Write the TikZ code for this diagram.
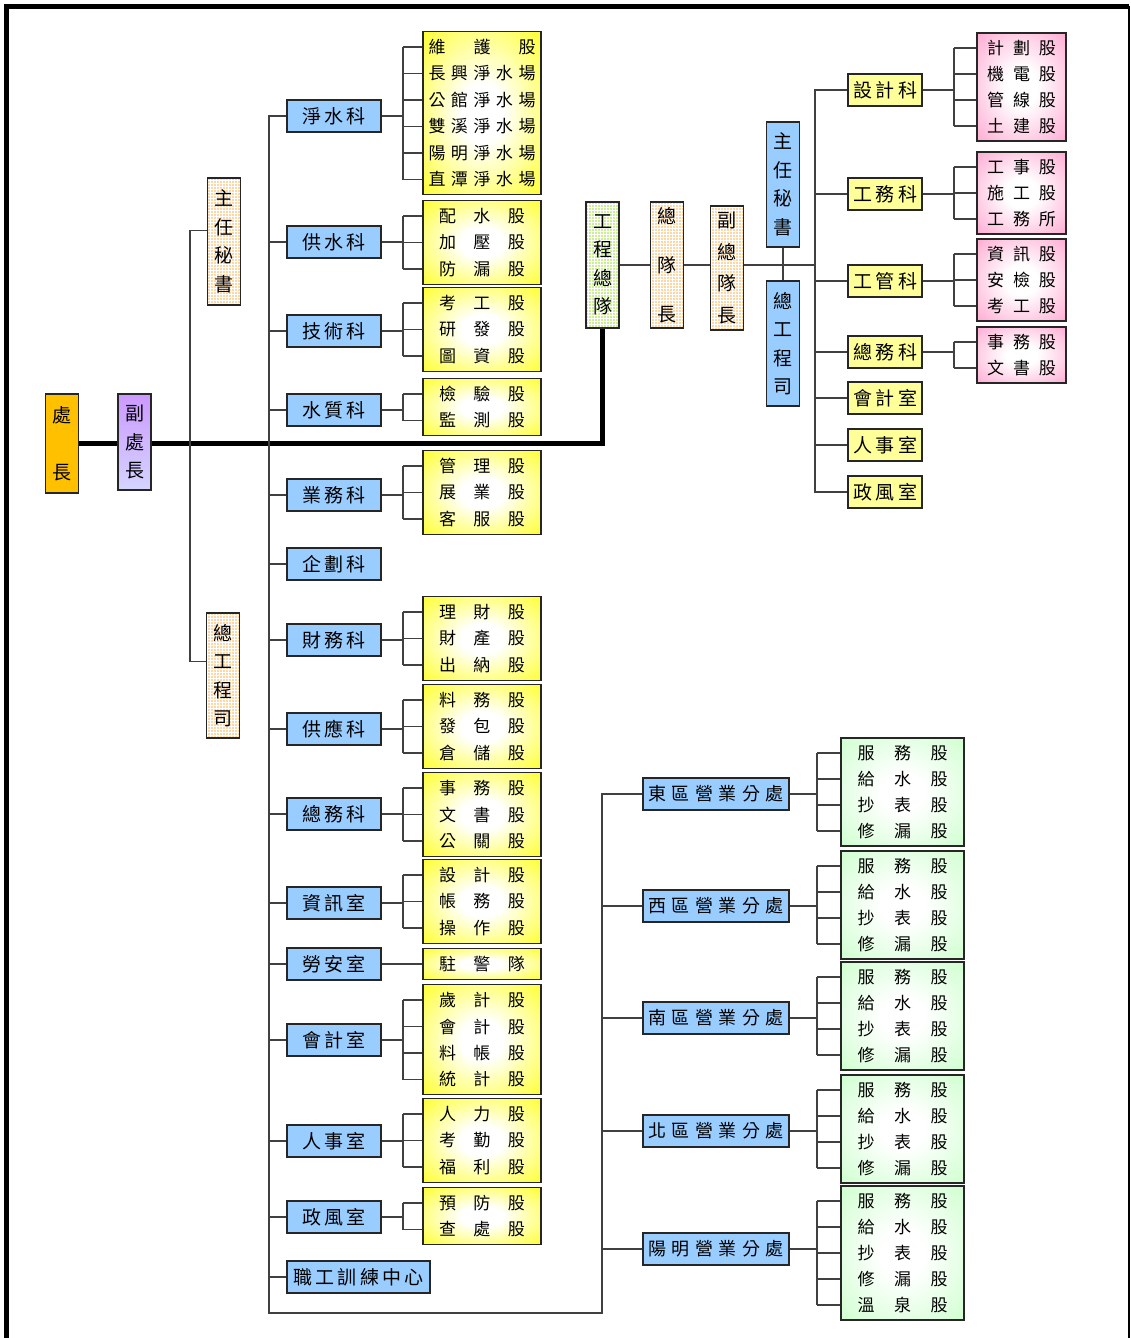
\documentclass[tikz,border=0pt]{standalone}
\usepackage{fontspec}
\setmainfont{Noto Sans CJK TC}
\usepackage{xcolor}
\usepackage{tikz}
\usetikzlibrary{positioning}
\usetikzlibrary{patterns}
\definecolor{chiefgold}{RGB}{255,192,0}
\definecolor{deputytop}{RGB}{204,153,255}
\definecolor{deputybot}{RGB}{212,212,255}
\definecolor{peachfill}{RGB}{255,214,165}
\definecolor{teamgreen}{RGB}{204,238,150}
\definecolor{deptblue}{RGB}{153,204,255}
\definecolor{keyellow}{RGB}{255,255,153}
\definecolor{guyellow}{RGB}{255,255,0}
\definecolor{gupink}{RGB}{255,150,200}
\definecolor{gugreen}{RGB}{196,255,196}
\pgfdeclareradialshading{gushade}{\pgfpoint{0bp}{0bp}}{color(0bp)=(white);
  color(9bp)=(white); color(42bp)=(guyellow); color(50bp)=(guyellow)}
\pgfdeclareradialshading{pkshade}{\pgfpoint{0bp}{0bp}}{color(0bp)=(white);
  color(9bp)=(white); color(42bp)=(gupink); color(50bp)=(gupink)}
\pgfdeclareradialshading{grshade}{\pgfpoint{0bp}{0bp}}{color(0bp)=(white);
  color(9bp)=(white); color(42bp)=(gugreen); color(50bp)=(gugreen)}
\tikzstyle{conn} = [draw=black!75, line width=1.3pt]
\tikzstyle{trunk} = [draw=black, line width=5pt]
\tikzstyle{box} = [draw=black!85, line width=1.3pt, inner sep=0pt]
\tikzstyle{vbox} = [box, minimum width=33, align=center,
                    font=\fontsize{19}{28.5}\selectfont]
\tikzstyle{peach} = [vbox, preaction={fill=peachfill}, pattern=grid,
                     pattern color=white]
\tikzstyle{teampat} = [vbox, preaction={fill=teamgreen}, pattern=grid,
                       pattern color=white]
\tikzstyle{dept} = [box, fill=deptblue, minimum width=94, minimum height=32,
                    font=\fontsize{19}{19}\selectfont]
\tikzstyle{office} = [box, fill=deptblue, minimum width=146, minimum height=32,
                      font=\fontsize{18}{18}\selectfont]
\tikzstyle{ke} = [box, fill=keyellow, minimum width=74, minimum height=32,
                  font=\fontsize{19}{19}\selectfont]
\tikzstyle{gu} = [box, shading=gushade, minimum width=118]
\tikzstyle{pk} = [box, shading=pkshade, minimum width=89]
\tikzstyle{gr} = [box, shading=grshade, minimum width=123]
\tikzstyle{row} = [inner sep=0pt, font=\fontsize{17}{17}\selectfont]
\def\rowpitch{26.5}
\def\rowwd{86pt}
% #1 parent, #2 group, #3 style, #4 x, #5 first row y, #6 rows, #7 bracket x, #8 rows
\newcommand{\gugroup}[8]{%
  \node [#3, minimum height={#6*\rowpitch+4}] (#2) at (#4,{#5+(#6-1)*\rowpitch/2}) {};
  \foreach \t [count=\i] in {#8}
    \node [row] (#2-\i) at (#4,{#5+(\i-1)*\rowpitch}) {\makebox[\rowwd][s]{\t}};
  \coordinate (#2-b) at (#7,#5);
  \draw [conn] (#1.east) -- (#1.east -| #2-b);
  \draw [conn] (#2-1 -| #2-b) -- (#2-#6 -| #2-b);
  \foreach \i in {1,...,#6}
    \draw [conn] (#2-\i -| #2-b) -- (#2-\i -| #2.west);
}

\begin{document}
\begin{tikzpicture}[x=1pt, y=-1pt]
  \useasboundingbox (0,0) rectangle (1131,1338);
  \draw [line width=5pt] (6.5,1338) -- (6.5,6.5) -- (1129,6.5);
  \draw [line width=2.5pt] (1129,6.5) -- (1129,1338);

  % Place nodes
  \node [vbox, fill=chiefgold, minimum height=99] (chief) at (62,443.5) {處\\[28.5pt]長};
  \node [vbox, top color=deputytop, bottom color=deputybot, minimum height=96] (deputy) at (134.5,442) {副\\處\\長};
  \node [peach, minimum height=127] (secL) at (224,241.5) {主\\任\\秘\\書};
  \node [peach, minimum height=125] (engL) at (223,675.5) {總\\工\\程\\司};

  \node [dept] (jingshui) at (334,116) {\makebox[64pt][s]{淨 水 科}};
  \node [dept] (gongshui) at (334,242) {\makebox[64pt][s]{供 水 科}};
  \node [dept] (jishu) at (334,331) {\makebox[64pt][s]{技 術 科}};
  \node [dept] (shuizhi) at (334,410) {\makebox[64pt][s]{水 質 科}};
  \node [dept] (yewu) at (334,495) {\makebox[64pt][s]{業 務 科}};
  \node [dept] (qihua) at (334,564) {\makebox[64pt][s]{企 劃 科}};
  \node [dept] (caiwu) at (334,640) {\makebox[64pt][s]{財 務 科}};
  \node [dept] (gongying) at (334,729) {\makebox[64pt][s]{供 應 科}};
  \node [dept] (zongwu) at (334,814) {\makebox[64pt][s]{總 務 科}};
  \node [dept] (zixun) at (334,903) {\makebox[64pt][s]{資 訊 室}};
  \node [dept] (laoan) at (334,964) {\makebox[64pt][s]{勞 安 室}};
  \node [dept] (kuaiji) at (334,1040) {\makebox[64pt][s]{會 計 室}};
  \node [dept] (renshi) at (334,1141) {\makebox[64pt][s]{人 事 室}};
  \node [dept] (zhengfeng) at (334,1217) {\makebox[64pt][s]{政 風 室}};
  \node [dept, minimum width=143] (zhigong) at (358.5,1277) {\makebox[131pt][s]{職 工 訓 練 中 心}};

  \node [teampat, minimum height=126] (team) at (602.5,265) {工\\程\\總\\隊};
  \node [peach, minimum height=126] (leader) at (667,265) {總\\[20.5pt]隊\\[20.5pt]長};
  \node [peach, minimum height=124] (viceleader) at (727,268) {副\\[3.2pt]總\\[3.2pt]隊\\[3.2pt]長};
  \node [vbox, fill=deptblue, minimum height=125] (secR) at (783,184.5) {主\\任\\秘\\書};
  \node [vbox, fill=deptblue, minimum height=125] (engR) at (783,343.5) {總\\工\\程\\司};

  \node [ke] (sheji) at (885,90) {\makebox[64pt][s]{設 計 科}};
  \node [ke] (gongwuke) at (885,194) {\makebox[64pt][s]{工 務 科}};
  \node [ke] (gongguanke) at (885,281) {\makebox[64pt][s]{工 管 科}};
  \node [ke] (zongwuR) at (885,352) {\makebox[64pt][s]{總 務 科}};
  \node [ke] (kuaijiR) at (885,398) {\makebox[64pt][s]{會 計 室}};
  \node [ke] (renshiR) at (885,445) {\makebox[64pt][s]{人 事 室}};
  \node [ke] (zhengfengR) at (885,492) {\makebox[64pt][s]{政 風 室}};

  \node [office] (dongqu) at (716,794) {\makebox[136pt][s]{東 區 營 業 分 處}};
  \node [office] (xiqu) at (716,906) {\makebox[136pt][s]{西 區 營 業 分 處}};
  \node [office] (nanqu) at (716,1018) {\makebox[136pt][s]{南 區 營 業 分 處}};
  \node [office] (beiqu) at (716,1131) {\makebox[136pt][s]{北 區 營 業 分 處}};
  \node [office] (yangming) at (716,1249) {\makebox[136pt][s]{陽 明 營 業 分 處}};

  % Sections under each division
  \def\rowwd{107pt}
  \gugroup{jingshui}{jsg}{gu}{482}{47}{6}{403}{維 護 股,長 興 淨 水 場,公 館 淨 水 場,雙 溪 淨 水 場,陽 明 淨 水 場,直 潭 淨 水 場}
  \def\rowwd{86pt}
  \gugroup{gongshui}{gsg}{gu}{482}{216}{3}{403}{配 水 股,加 壓 股,防 漏 股}
  \gugroup{jishu}{jsh}{gu}{482}{303}{3}{403}{考 工 股,研 發 股,圖 資 股}
  \gugroup{shuizhi}{szg}{gu}{482}{394}{2}{403}{檢 驗 股,監 測 股}
  \gugroup{yewu}{ywg}{gu}{482}{466}{3}{403}{管 理 股,展 業 股,客 服 股}
  \gugroup{caiwu}{cwg}{gu}{482}{612}{3}{403}{理 財 股,財 產 股,出 納 股}
  \gugroup{gongying}{gyg}{gu}{482}{700}{3}{403}{料 務 股,發 包 股,倉 儲 股}
  \gugroup{zongwu}{zwg}{gu}{482}{788}{3}{403}{事 務 股,文 書 股,公 關 股}
  \gugroup{zixun}{zxg}{gu}{482}{875}{3}{403}{設 計 股,帳 務 股,操 作 股}
  \gugroup{laoan}{lag}{gu}{482}{964}{1}{403}{駐 警 隊}
  \gugroup{kuaiji}{kjg}{gu}{482}{1000}{4}{403}{歲 計 股,會 計 股,料 帳 股,統 計 股}
  \gugroup{renshi}{rsg}{gu}{482}{1114}{3}{403}{人 力 股,考 勤 股,福 利 股}
  \gugroup{zhengfeng}{zfg}{gu}{482}{1203}{2}{403}{預 防 股,查 處 股}

  \def\rowpitch{26}
  \def\rowwd{69pt}
  \gugroup{sheji}{sjg}{pk}{1021.5}{48}{4}{954}{計 劃 股,機 電 股,管 線 股,土 建 股}
  \gugroup{gongwuke}{gwg}{pk}{1021.5}{167}{3}{954}{工 事 股,施 工 股,工 務 所}
  \gugroup{gongguanke}{ggg}{pk}{1021.5}{254}{3}{954}{資 訊 股,安 檢 股,考 工 股}
  \gugroup{zongwuR}{zwk}{pk}{1021.5}{342}{2}{954}{事 務 股,文 書 股}

  \def\rowwd{90pt}
  \gugroup{dongqu}{dqg}{gr}{902.5}{753}{4}{817}{服 務 股,給 水 股,抄 表 股,修 漏 股}
  \gugroup{xiqu}{xqg}{gr}{902.5}{866}{4}{817}{服 務 股,給 水 股,抄 表 股,修 漏 股}
  \gugroup{nanqu}{nqg}{gr}{902.5}{977}{4}{817}{服 務 股,給 水 股,抄 表 股,修 漏 股}
  \gugroup{beiqu}{bqg}{gr}{902.5}{1090}{4}{817}{服 務 股,給 水 股,抄 表 股,修 漏 股}
  \gugroup{yangming}{ymg}{gr}{902.5}{1201}{5}{817}{服 務 股,給 水 股,抄 表 股,修 漏 股,溫 泉 股}

  % Lines
  \draw [trunk] (chief.east) -- (chief.east -| deputy.west);
  \draw [trunk] (deputy.east |- chief.east) -| (team.south);
  \draw [conn] ([yshift=11pt]secL.west) -- ++(-17,0) |- ([yshift=14pt]engL.west);

  \coordinate (trunkL) at (269,1313);
  \coordinate (trunkR) at (602,1313);
  \draw [conn] (jingshui.west) -| (trunkL) -- (trunkR) |- (dongqu.west);
  \foreach \n in {gongshui,jishu,shuizhi,yewu,qihua,caiwu,gongying,zongwu,zixun,laoan,kuaiji,renshi,zhengfeng,zhigong}
    \draw [conn] (\n.west) -- (\n.west -| trunkL);
  \foreach \n in {xiqu,nanqu,beiqu,yangming}
    \draw [conn] (\n.west) -- (\n.west -| trunkR);

  \coordinate (trunkE) at (815,90);
  \draw [conn] (team.east) -- (leader.west);
  \draw [conn] (leader.east) -- (leader.east -| viceleader.west);
  \draw [conn] (viceleader.east |- leader.east) -- (leader.east -| trunkE);
  \draw [conn] (secR.south) -- (engR.north);
  \draw [conn] (sheji.west) -- (sheji.west -| trunkE) |- (zhengfengR.west);
  \foreach \n in {gongwuke,gongguanke,zongwuR,kuaijiR,renshiR}
    \draw [conn] (\n.west) -- (\n.west -| trunkE);

\end{tikzpicture}
\end{document}
